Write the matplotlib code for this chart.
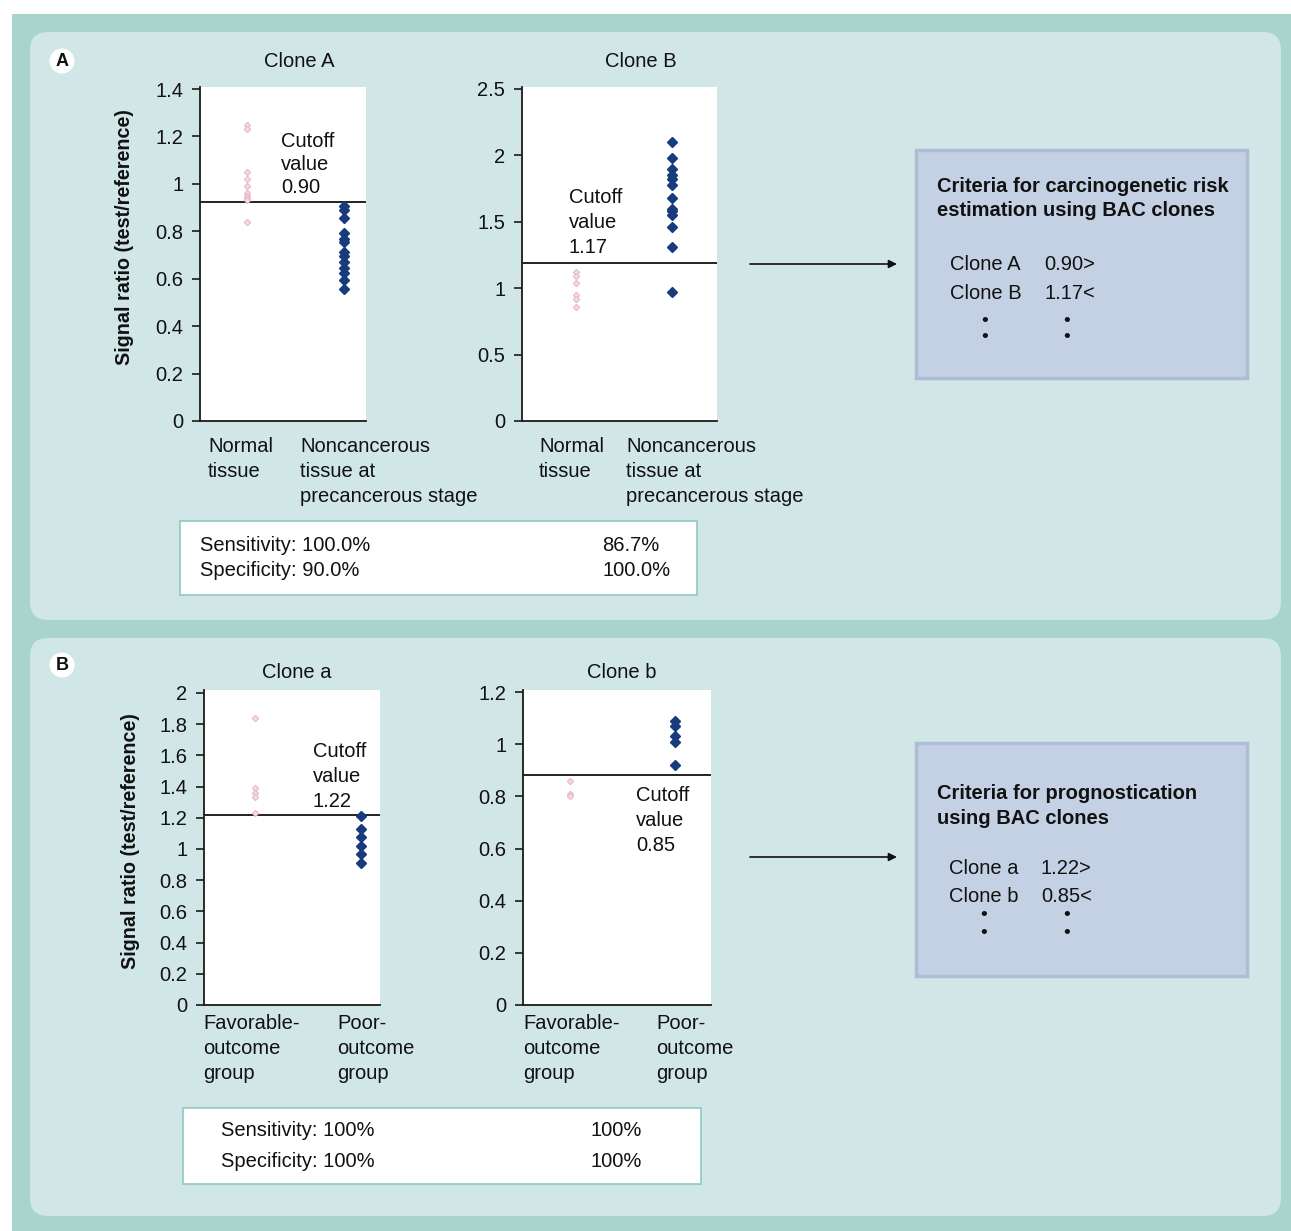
import matplotlib
matplotlib.use("Agg")
import matplotlib.pyplot as plt
from matplotlib.patches import FancyBboxPatch, Rectangle, Circle

plt.rcParams['font.family'] = ['Liberation Sans', 'DejaVu Sans']

W, H = 1291, 1231
FS = 14.5

# ---------------- data ----------------
cloneA_normal = [1.25, 1.23, 1.05, 1.02, 0.99, 0.96, 0.95, 0.94, 0.93, 0.84]
cloneA_precancer = [0.907, 0.890, 0.856, 0.793, 0.768, 0.755, 0.713, 0.696,
                    0.671, 0.645, 0.624, 0.595, 0.557]
cloneA_cutoff = 0.924

cloneB_normal = [1.12, 1.09, 1.04, 0.95, 0.92, 0.86]
cloneB_precancer = [2.10, 1.98, 1.90, 1.85, 1.82, 1.78, 1.68, 1.60, 1.58,
                    1.55, 1.46, 1.31, 0.97]
cloneB_cutoff = 1.19

clonea_favorable = [1.84, 1.39, 1.36, 1.33, 1.23]
clonea_poor = [1.21, 1.13, 1.08, 1.02, 0.97, 0.91]
clonea_cutoff = 1.218

cloneb_favorable = [0.86, 0.81, 0.80]
cloneb_poor = [1.09, 1.07, 1.03, 1.01, 0.92]
cloneb_cutoff = 0.882

ticksA = [0, 0.2, 0.4, 0.6, 0.8, 1.0, 1.2, 1.4]
ticklabA = ['0', '0.2', '0.4', '0.6', '0.8', '1', '1.2', '1.4']
ticksB = [0, 0.5, 1.0, 1.5, 2.0, 2.5]
ticklabB = ['0', '0.5', '1', '1.5', '2', '2.5']
ticksa = [0, 0.2, 0.4, 0.6, 0.8, 1.0, 1.2, 1.4, 1.6, 1.8, 2.0]
ticklaba = ['0', '0.2', '0.4', '0.6', '0.8', '1', '1.2', '1.4', '1.6', '1.8', '2']
ticksb = [0, 0.2, 0.4, 0.6, 0.8, 1.0, 1.2]
ticklabb = ['0', '0.2', '0.4', '0.6', '0.8', '1', '1.2']

cats_top = ['Normal\ntissue', 'Noncancerous\ntissue at\nprecancerous stage']
cats_bottom = ['Favorable-\noutcome\ngroup', 'Poor-\noutcome\ngroup']
titles = ['Clone A', 'Clone B', 'Clone a', 'Clone b']
cutoff_texts = ['Cutoff\nvalue\n0.90', 'Cutoff\nvalue\n1.17',
                'Cutoff\nvalue\n1.22', 'Cutoff\nvalue\n0.85']
ylabel = 'Signal ratio (test/reference)'

tableA_left = ['Sensitivity: 100.0%', 'Specificity: 90.0%']
tableA_right = ['86.7%', '100.0%']
tableB_left = ['Sensitivity: 100%', 'Specificity: 100%']
tableB_right = ['100%', '100%']

boxA_title = 'Criteria for carcinogenetic risk\nestimation using BAC clones'
boxA_names = ['Clone A', 'Clone B']
boxA_vals = ['0.90>', '1.17<']
boxB_title = 'Criteria for prognostication\nusing BAC clones'
boxB_names = ['Clone a', 'Clone b']
boxB_vals = ['1.22>', '0.85<']

# ---------------- figure ----------------
fig = plt.figure(figsize=(W / 100, H / 100), dpi=100, facecolor='white')
bg = fig.add_axes([0, 0, 1, 1], zorder=-5)
bg.set_xlim(0, W)
bg.set_ylim(H, 0)
bg.axis('off')

OUTER = '#a8d4cd'
PANEL = '#d1e6e7'
BOX = '#c4d1e4'
BOXEDGE = '#aebdd5'

bg.add_patch(Rectangle((12, 14), W - 12, H - 14, facecolor=OUTER, edgecolor='none'))
for (x0, y0, x1, y1) in [(30, 32, 1281, 620), (30, 638, 1281, 1216)]:
    bg.add_patch(FancyBboxPatch((x0, y0), x1 - x0, y1 - y0,
                                boxstyle='round,pad=0,rounding_size=18',
                                facecolor=PANEL, edgecolor='none'))

# panel letters
for lab, (cx, cy) in [('A', (62, 61)), ('B', (62, 665))]:
    bg.add_patch(Circle((cx, cy), 12.5, facecolor='white', edgecolor='none'))
    bg.text(cx, cy + 1, lab, ha='center', va='center', fontsize=13,
            fontweight='bold', color='#111111')

# right boxes
for (x0, y0, x1, y1) in [(916, 150, 1247, 378), (916, 743, 1247, 976)]:
    bg.add_patch(Rectangle((x0, y0), x1 - x0, y1 - y0, facecolor=BOX,
                           edgecolor=BOXEDGE, linewidth=2.5))

# tables
for (x0, y0, x1, y1) in [(180, 521, 697, 595), (183, 1108, 701, 1184)]:
    bg.add_patch(Rectangle((x0, y0), x1 - x0, y1 - y0, facecolor='white',
                           edgecolor='#8fc8c0', linewidth=1.2))

# arrows
for y in [264, 857]:
    bg.annotate('', xy=(897, y), xytext=(750, y),
                arrowprops=dict(arrowstyle='-|>', color='#111111', lw=1.2,
                                mutation_scale=12, shrinkA=0, shrinkB=0))

TXT = '#111111'

def btext(x, y, s, dy=25, **kw):
    """Place (possibly multi-line) text in pixel coords (drawn above all axes);
    y is the baseline of the first line."""
    kw.setdefault('fontsize', FS)
    kw.setdefault('color', TXT)
    kw.setdefault('ha', 'left')
    for i, line in enumerate(s.split('\n')):
        fig.text(x, y + dy * i, line, va='baseline', transform=bg.transData,
                 zorder=10, **kw)

# titles
btext(299, 67, titles[0], ha='center')
btext(641, 67, titles[1], ha='center')
btext(297, 678, titles[2], ha='center')
btext(622, 678, titles[3], ha='center')

# category labels
btext(208, 452, cats_top[0])
btext(300, 452, cats_top[1])
btext(539, 452, cats_top[0])
btext(626, 452, cats_top[1])
btext(203, 1029, cats_bottom[0])
btext(337, 1029, cats_bottom[1])
btext(523, 1029, cats_bottom[0])
btext(656, 1029, cats_bottom[1])

# cutoff annotations
btext(281, 147, cutoff_texts[0], dy=23)
btext(569, 203, cutoff_texts[1], dy=25)
btext(313, 757, cutoff_texts[2], dy=25)
btext(636, 801, cutoff_texts[3], dy=25)

# y labels
bg.text(125, 237, ylabel, rotation=90, ha='center', va='center',
        fontsize=14.2, fontweight='bold', color=TXT)
bg.text(130, 841, ylabel, rotation=90, ha='center', va='center',
        fontsize=14.2, fontweight='bold', color=TXT)

# tables text
for i, (l, r) in enumerate(zip(tableA_left, tableA_right)):
    btext(200, 551 + 25 * i, l)
    btext(602, 551 + 25 * i, r)
for i, (l, r) in enumerate(zip(tableB_left, tableB_right)):
    btext(221, 1136 + 31 * i, l)
    btext(591, 1136 + 31 * i, r)

# box texts
btext(937, 192, boxA_title, dy=24, fontweight='bold')
for i, (n, v) in enumerate(zip(boxA_names, boxA_vals)):
    btext(950, 270 + 29 * i, n)
    btext(1044, 270 + 29 * i, v)
for yy in [321, 338]:
    for xx in [985, 1067]:
        bg.text(xx, yy, '•', ha='center', va='center', fontsize=14, color=TXT)

btext(937, 799, boxB_title, dy=25, fontweight='bold')
for i, (n, v) in enumerate(zip(boxB_names, boxB_vals)):
    btext(949, 874 + 28 * i, n)
    btext(1041, 874 + 28 * i, v)
for yy in [916, 934]:
    for xx in [984, 1067]:
        bg.text(xx, yy, '•', ha='center', va='center', fontsize=14, color=TXT)

# ---------------- charts ----------------
NAVY = '#173b7c'
PINK_F = '#f7dce7'
PINK_E = '#eab6cd'

def chart(l, r, t, b, xlim, ylim_top, ticks, ticklabels, left_vals, right_vals,
          cutoff):
    ax = fig.add_axes([l / W, 1 - b / H, (r - l) / W, (b - t) / H])
    ax.set_facecolor('white')
    ax.set_xlim(*xlim)
    ax.set_ylim(0, ylim_top)
    for s in ['top', 'right']:
        ax.spines[s].set_visible(False)
    for s in ['left', 'bottom']:
        ax.spines[s].set_linewidth(1.3)
        ax.spines[s].set_color('#1a1a1a')
    ax.set_xticks([])
    ax.set_yticks(ticks)
    ax.set_yticklabels(ticklabels)
    ax.tick_params(axis='y', direction='out', length=6, width=1.2,
                   labelsize=FS, pad=6, colors='#1a1a1a', labelcolor=TXT)
    ax.plot([0] * len(left_vals), left_vals, linestyle='none', marker='D',
            markersize=3.2, markerfacecolor=PINK_F, markeredgecolor=PINK_E,
            markeredgewidth=0.8, zorder=3)
    ax.plot([1] * len(right_vals), right_vals, linestyle='none', marker='D',
            markersize=4.8, markerfacecolor=NAVY, markeredgecolor=NAVY,
            zorder=3)
    ax.axhline(cutoff, color='#111111', linewidth=1.3, zorder=2)
    return ax

chart(200, 366, 87, 421, (-0.49, 1.228), 1.4085, ticksA, ticklabA,
      cloneA_normal, cloneA_precancer, cloneA_cutoff)
chart(522, 717, 87, 421, (-0.567, 1.473), 2.515, ticksB, ticklabB,
      cloneB_normal, cloneB_precancer, cloneB_cutoff)
chart(204, 380, 690, 1005, (-0.482, 1.179), 2.019, ticksa, ticklaba,
      clonea_favorable, clonea_poor, clonea_cutoff)
chart(523, 711, 690, 1005, (-0.452, 1.346), 1.208, ticksb, ticklabb,
      cloneb_favorable, cloneb_poor, cloneb_cutoff)

fig.savefig('out.png', dpi=100, facecolor='white')
